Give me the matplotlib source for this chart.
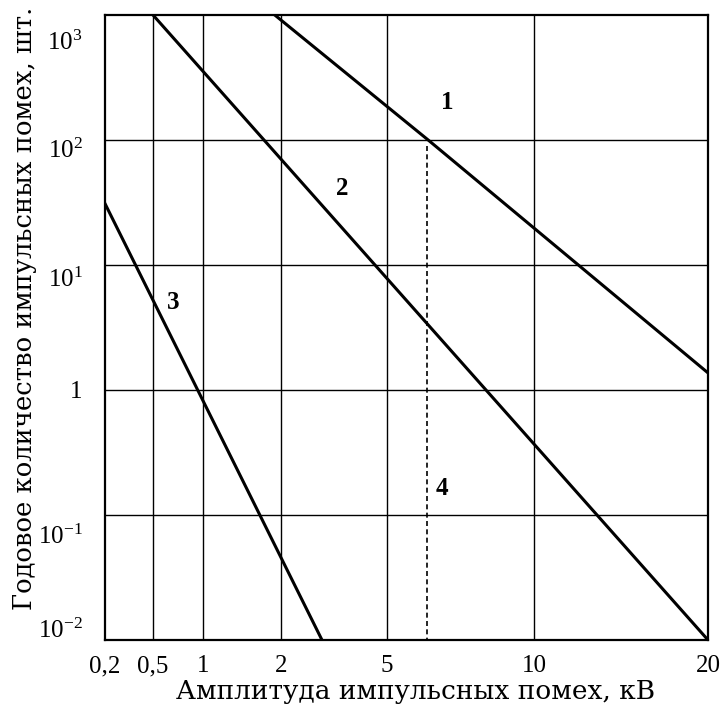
import numpy as np
import matplotlib
matplotlib.use("Agg")
import matplotlib.pyplot as plt
from matplotlib.transforms import ScaledTranslation

plt.rcParams['font.family'] = ['Liberation Serif', 'DejaVu Serif']
plt.rcParams['mathtext.fontset'] = 'custom'
plt.rcParams['mathtext.rm'] = 'Liberation Serif'
plt.rcParams['mathtext.it'] = 'Liberation Serif:italic'

# x ticks (kV) and their labels
x_ticks = [0.2, 0.5, 1, 2, 5, 10, 20]
x_labels = ['0,2', '0,5', '1', '2', '5', '10', '20']
# the original axis is non-uniform: relative position of each tick along the axis
x_tick_pos = [0, 48, 98, 176, 282, 429, 603]

y_ticks = [1e-2, 1e-1, 1, 1e1, 1e2, 1e3]
y_labels = [r'$10^{-2}$', r'$10^{-1}$', '1', r'$10^{1}$', r'$10^{2}$', r'$10^{3}$']
# the scanned labels sit a bit off their grid lines (pixels, up = +)
y_label_shift = [12, -19, 0, -12, -8, -25]

# curves: amplitude (kV) -> annual number of impulse interferences
line1_x = [1.92, 6.4, 20]
line1_y = [1000, 100, 1.37]
line2_x = [0.5, 20]
line2_y = [1000, 0.01]
line3_x = [0.2, 3.16]
line3_y = [31, 0.01]
line4_x = [6.36, 6.36]
line4_y = [90, 0.01]

labels = ['1', '2', '3', '4']
label_x = [7.04, 3.73, 0.70, 6.87]
label_y = [198, 41, 4.97, 0.164]


def fwd(x):
    return np.interp(x, x_ticks, x_tick_pos)


def inv(p):
    return np.interp(p, x_tick_pos, x_ticks)


fig = plt.figure(figsize=(7.26, 7.13), dpi=100)
ax = fig.add_axes([0.1446, 0.1024, 0.8306, 0.8766])
ax.set_xscale('function', functions=(fwd, inv))
ax.set_yscale('log')
ax.set_xlim(0.2, 20)
ax.set_ylim(1e-2, 1e3)

for t in x_ticks[1:-1]:
    ax.axvline(t, color='black', lw=1.0, zorder=1)
for t in y_ticks[1:-1]:
    ax.axhline(t, color='black', lw=1.0, zorder=1)

ax.plot(line1_x, line1_y, color='black', lw=2.2, zorder=3)
ax.plot(line2_x, line2_y, color='black', lw=2.2, zorder=3)
ax.plot(line3_x, line3_y, color='black', lw=2.2, zorder=3)
ax.plot(line4_x, line4_y, color='black', lw=1.2, ls=(0, (3, 2)), zorder=2)

for s, lx, ly in zip(labels, label_x, label_y):
    ax.text(lx, ly, s, fontsize=18, fontweight='bold', ha='center', va='center')

ax.set_xticks(x_ticks)
ax.set_xticklabels(x_labels)
ax.set_yticks(y_ticks)
ax.set_yticklabels(y_labels)
ax.minorticks_off()
ax.tick_params(length=0, labelsize=18)
ax.tick_params(axis='x', pad=11)
ax.tick_params(axis='y', pad=16)
for lab, dy in zip(ax.get_yticklabels(), y_label_shift):
    lab.set_transform(lab.get_transform() + ScaledTranslation(0, dy / 100, fig.dpi_scale_trans))
for sp in ax.spines.values():
    sp.set_linewidth(1.6)

ax.set_xlabel('Амплитуда импульсных помех, кВ', fontsize=19, family='DejaVu Serif')
ax.xaxis.set_label_coords(0.515, -0.062)
ax.set_ylabel('Годовое количество импульсных помех, шт.', fontsize=18.6, family='DejaVu Serif')
ax.yaxis.set_label_coords(-0.113, 0.531)

fig.savefig('out.png', dpi=100)
